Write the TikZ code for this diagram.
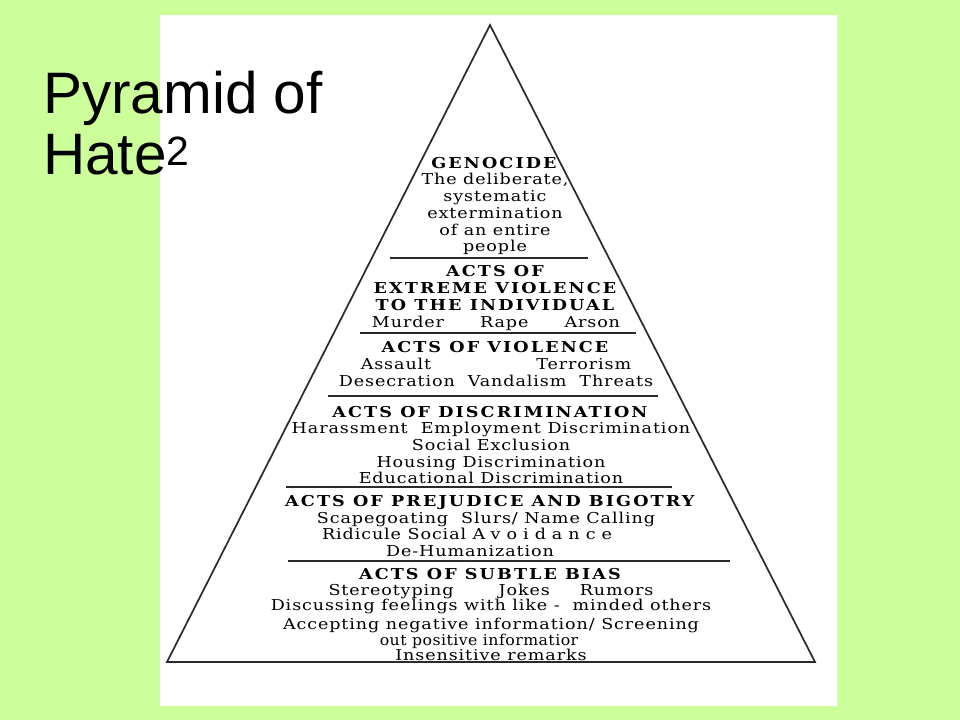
\documentclass[tikz,border=0pt]{standalone}
\usepackage{fontspec}
\setmainfont{Liberation Sans}
\newfontfamily\pyrfont[FakeStretch=1.17, LetterSpace=6, BoldFeatures={LetterSpace=14}]{DejaVu Serif}
\newfontfamily\pyrwide[FakeStretch=1.17, LetterSpace=40]{DejaVu Serif}
\newfontfamily\pyrtight[FakeStretch=1.05, LetterSpace=3]{DejaVu Serif}
\usetikzlibrary{positioning}
\definecolor{slideGreen}{HTML}{CCFF99}
\definecolor{edgeGrey}{HTML}{2A2A2A}

\begin{document}
\begin{tikzpicture}[x=1pt, y=-1pt,
    tier/.style={align=center, inner sep=0pt,
      font=\pyrfont\fontsize{15}{16.7}\selectfont},
    divider/.style={draw=edgeGrey, line width=1.7pt}]
  % slide and white panel
  \fill[slideGreen] (0,0) rectangle (960,720);
  \fill[white] (160,15) rectangle (837,706);

  % pyramid outline
  \coordinate (apex) at (490,25);
  \coordinate (baseL) at (167,662);
  \coordinate (baseR) at (815,662);
  \draw[edgeGrey, line width=1.7pt, line join=miter] (apex) -- (baseR) -- (baseL) -- cycle;

  % dividers between the levels
  \draw[divider] (390,258) -- (588,258);
  \draw[divider] (360,333) -- (636,333);
  \draw[divider] (328,396) -- (658,396);
  \draw[divider] (286,487) -- (672,487);
  \draw[divider] (288,561) -- (730,561);

  % levels, top to bottom
  \node[tier] (genocide) at (495,206)
    {\textbf{GENOCIDE}\\ The deliberate,\\ systematic\\ extermination\\ of an entire\\ people};
  \node[tier] (extreme) at (496,298)
    {\textbf{ACTS OF}\\ \textbf{EXTREME VIOLENCE}\\ \textbf{TO THE INDIVIDUAL}\\
     Murder\hspace{2.4em}Rape\hspace{2.4em}Arson};
  \node[tier] (violence) at (496,364)
    {\textbf{ACTS OF VIOLENCE}\\ Assault\hspace{7em}Terrorism\\
     Desecration\ \ Vandalism\ \ Threats};
  \node[tier] (discrim) at (491,445)
    {\textbf{ACTS OF DISCRIMINATION}\\ Harassment\ \ Employment Discrimination\\
     Social Exclusion\\ Housing Discrimination\\ Educational Discrimination};
  \node[tier] (prejudice) at (491,526)
    {\textbf{ACTS OF PREJUDICE AND BIGOTRY}\\
     Scapegoating\ \ Slurs/ Name Calling\hspace{10pt}\mbox{}\\
     Ridicule Social {\pyrwide Avoidance}\hspace{48pt}\mbox{}\\
     De-Humanization\hspace{42pt}\mbox{}};
  \node[tier, font=\pyrfont\fontsize{15}{15.5}\selectfont] (bias) at (491,615)
    {\textbf{ACTS OF SUBTLE BIAS}\\ Stereotyping\hspace{3em}Jokes\hspace{2em}Rumors\\
     Discussing feelings with like -\ \ minded others\\[3.5pt]
     Accepting negative information/ Screening\\
     {\pyrtight out positive informatior}\hspace{24pt}\mbox{}\\
     Insensitive remarks};

  % slide title
  \node[anchor=north west, align=left, inner sep=0pt,
        font=\fontsize{58.5}{61}\selectfont] (title) at (43,71)
    {Pyramid of\\ Hate\textsuperscript{2}};
\end{tikzpicture}
\end{document}
